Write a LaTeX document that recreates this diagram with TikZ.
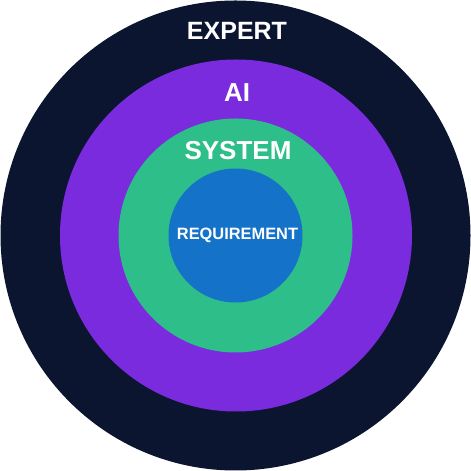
\documentclass[tikz,border=0pt]{standalone}
\usepackage{fontspec}
\setmainfont{Liberation Sans}
\definecolor{navy}{HTML}{0B1530}
\definecolor{purp}{HTML}{7B2BDE}
\definecolor{grn}{HTML}{2DBE8A}
\definecolor{blu}{HTML}{1473C8}
\tikzset{ring/.style={draw=none}, lbl/.style={text=white, font=\bfseries, inner sep=0pt}}
\begin{document}
\begin{tikzpicture}[x=1pt,y=1pt]
\useasboundingbox (0,0) rectangle (471,471);
\fill[navy] (235.5,235.5) circle (235);
\fill[purp] (236,235.5) circle (176);
\fill[grn] (235.5,235.5) circle (117);
\fill[blu] (235.5,235.5) circle (67);
\node[lbl, font=\bfseries\fontsize{25}{30}\selectfont] (expert) at (237,440) {EXPERT};
\node[lbl, font=\bfseries\fontsize{26}{30}\selectfont] (ai) at (237,378) {AI};
\node[lbl, font=\bfseries\fontsize{26}{30}\selectfont] (system) at (238,320.5) {SYSTEM};
\node[lbl, font=\bfseries\fontsize{16.4}{20}\selectfont] (req) at (237.5,235.5) {REQUIREMENT};
\end{tikzpicture}
\end{document}
